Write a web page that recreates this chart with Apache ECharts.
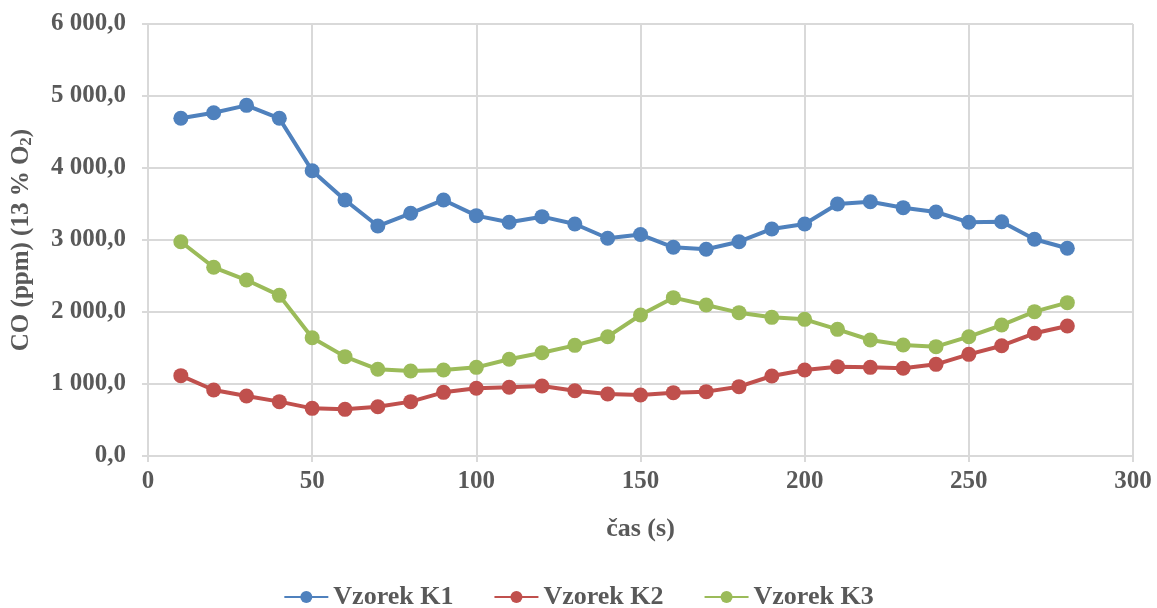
<!DOCTYPE html>
<html>
<head>
<meta charset="utf-8">
<script src="https://cdn.jsdelivr.net/npm/echarts@6/dist/echarts.min.js"></script>
<style>html,body{margin:0;padding:0;background:#fff;}#c{width:1157px;height:608px;}</style>
</head>
<body>
<div id="c"></div>
<script>
const times = [10,20,30,40,50,60,70,80,90,100,110,120,130,140,150,160,170,180,190,200,210,220,230,240,250,260,270,280];
const k1 = [4690,4768,4870,4690,3962,3556,3194,3371,3556,3338,3246,3324,3222,3024,3076,2899,2871,2976,3153,3222,3500,3532,3449,3389,3246,3254,3010,2885];
const k2 = [1116,917,833,755,662,648,685,755,884,940,954,972,907,861,847,880,894,963,1111,1194,1241,1231,1218,1273,1412,1532,1704,1806];
const k3 = [2976,2621,2444,2231,1643,1380,1204,1181,1194,1231,1343,1435,1537,1657,1958,2199,2097,1991,1926,1898,1759,1611,1542,1519,1657,1819,2005,2130];
const seriesNames = ['Vzorek K1','Vzorek K2','Vzorek K3'];
const colors = ['#4F81BD','#C0504D','#9BBB59'];

const FONT = '"Liberation Serif", "Times New Roman", serif';
const TXT = '#595959';

function fmt(v){
  const s = v.toFixed(1).split('.');
  const intPart = s[0].replace(/\B(?=(\d{3})+(?!\d))/g, ' ');
  return intPart + ',' + s[1];
}
function pairs(arr){ return times.map((t,i)=>[t, arr[i]]); }

const chart = echarts.init(document.getElementById('c'), null, {renderer:'canvas'});
chart.setOption({
  animation:false,
  color: colors,
  grid:{left:148, right:24, top:24, bottom:152, containLabel:false, outerBoundsMode:'none'},
  xAxis:{
    type:'value', min:0, max:300, interval:50,
    name:'čas (s)', nameLocation:'middle', nameGap:60,
    nameTextStyle:{fontFamily:FONT, fontWeight:'bold', fontSize:26, color:TXT},
    axisLine:{show:true, lineStyle:{color:'#d9d9d9', width:2}},
    axisTick:{show:true, length:6, lineStyle:{color:'#d9d9d9', width:2}},
    axisLabel:{fontFamily:FONT, fontWeight:'bold', fontSize:25, color:TXT, margin:13},
    splitLine:{show:true, lineStyle:{color:'#d9d9d9', width:2}}
  },
  yAxis:{
    type:'value', min:0, max:6000, interval:1000,
    name:'{a|CO (ppm) (13 % O}{s|2}{a|)}', nameLocation:'middle', nameGap:113,
    nameTextStyle:{
      rich:{
        a:{fontFamily:FONT, fontWeight:'bold', fontSize:25, color:TXT},
        s:{fontFamily:FONT, fontWeight:'bold', fontSize:17, color:TXT, padding:[9,0,0,0]}
      }
    },
    axisLine:{show:true, lineStyle:{color:'#d9d9d9', width:2}},
    axisTick:{show:true, length:6, lineStyle:{color:'#d9d9d9', width:2}},
    axisLabel:{fontFamily:FONT, fontWeight:'bold', fontSize:25, color:TXT, margin:22, formatter:fmt},
    splitLine:{show:true, lineStyle:{color:'#d9d9d9', width:2}}
  },
  legend:{
    top:579, left:'center',
    itemWidth:44, itemHeight:15, itemGap:40,
    textStyle:{fontFamily:FONT, fontWeight:'bold', fontSize:26, color:TXT},
    data:seriesNames
  },
  series:[k1,k2,k3].map((arr,i)=>({
    name:seriesNames[i], type:'line', data:pairs(arr),
    symbol:'circle', symbolSize:15,
    lineStyle:{width:4, color:colors[i]},
    itemStyle:{color:colors[i]}
  }))
});
</script>
</body>
</html>
